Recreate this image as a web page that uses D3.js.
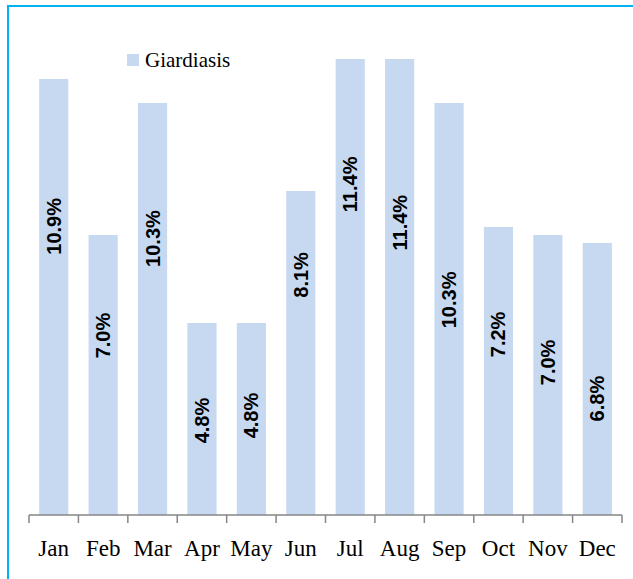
<!DOCTYPE html>
<html>
<head>
<meta charset="utf-8">
<script src="https://cdn.jsdelivr.net/npm/d3@7"></script>
<style>
  html, body { margin: 0; padding: 0; background: #fff; }
  svg { display: block; }
</style>
</head>
<body>
<svg id="chart" width="633" height="579"></svg>
<script>
// Monthly share of giardiasis cases (%)
const months = ["Jan", "Feb", "Mar", "Apr", "May", "Jun", "Jul", "Aug", "Sep", "Oct", "Nov", "Dec"];
const giardiasis = [10.9, 7.0, 10.3, 4.8, 4.8, 8.1, 11.4, 11.4, 10.3, 7.2, 7.0, 6.8];
const seriesName = "Giardiasis";

// Where each value label sits along its bar (fraction of bar height from the base)
const labelAnchor = [0.662, 0.641, 0.671, 0.492, 0.518, 0.741, 0.725, 0.641, 0.522, 0.627, 0.545, 0.428];

const svg = d3.select("#chart");
const W = 633, H = 579;

// Outer frame
svg.append("rect")
  .attr("x", 8).attr("y", 6)
  .attr("width", W + 20).attr("height", H + 20)
  .attr("fill", "none")
  .attr("stroke", "#00b2ef")
  .attr("stroke-width", 2);

const left = 29, right = 622, baseY = 515, topY = 35;

const x = d3.scaleBand()
  .domain(months)
  .range([left, right])
  .paddingInner(0.41)
  .paddingOuter(0.205);

const y = d3.scaleLinear()
  .domain([0, 12])
  .range([baseY, topY]);

const data = months.map((m, i) => ({ month: m, value: giardiasis[i], anchor: labelAnchor[i] }));

// Bars
svg.append("g")
  .selectAll("rect")
  .data(data)
  .join("rect")
  .attr("x", d => x(d.month))
  .attr("y", d => y(d.value))
  .attr("width", x.bandwidth())
  .attr("height", d => y(0) - y(d.value))
  .attr("fill", "#c6d9f1");

// Category axis: line with ticks at band boundaries
const axisG = svg.append("g").attr("class", "x-axis");
const step = x.step();
const boundaries = d3.range(months.length + 1).map(i => left + i * step);
axisG.append("line")
  .attr("x1", left).attr("x2", right)
  .attr("y1", baseY).attr("y2", baseY)
  .attr("stroke", "#868686").attr("stroke-width", 1.5);
axisG.selectAll("line.tick")
  .data(boundaries)
  .join("line")
  .attr("class", "tick")
  .attr("x1", d => d).attr("x2", d => d)
  .attr("y1", baseY).attr("y2", baseY + 8)
  .attr("stroke", "#868686").attr("stroke-width", 1.5);
axisG.selectAll("text")
  .data(months)
  .join("text")
  .attr("x", d => x(d) + x.bandwidth() / 2)
  .attr("y", 556)
  .attr("text-anchor", "middle")
  .attr("font-family", "'Liberation Serif', 'Times New Roman', serif")
  .attr("font-size", 23)
  .attr("fill", "#000")
  .text(d => d);

// Value labels, rotated inside each bar
svg.append("g")
  .selectAll("text")
  .data(data)
  .join("text")
  .attr("transform", d => {
    const cx = x(d.month) + x.bandwidth() / 2;
    const cy = y(d.value * d.anchor);
    return `translate(${cx},${cy}) rotate(-90)`;
  })
  .attr("text-anchor", "middle")
  .attr("dominant-baseline", "central")
  .attr("font-family", "'Liberation Sans', Arial, sans-serif")
  .attr("font-weight", "bold")
  .attr("font-size", 20)
  .attr("fill", "#000")
  .text(d => d.value.toFixed(1) + "%");

// Legend
const legend = svg.append("g");
legend.append("rect")
  .attr("x", 127).attr("y", 54)
  .attr("width", 12).attr("height", 12)
  .attr("fill", "#c6d9f1");
legend.append("text")
  .attr("x", 145).attr("y", 67)
  .attr("font-family", "'Liberation Serif', 'Times New Roman', serif")
  .attr("font-size", 21)
  .attr("fill", "#000")
  .text(seriesName);
</script>
</body>
</html>
